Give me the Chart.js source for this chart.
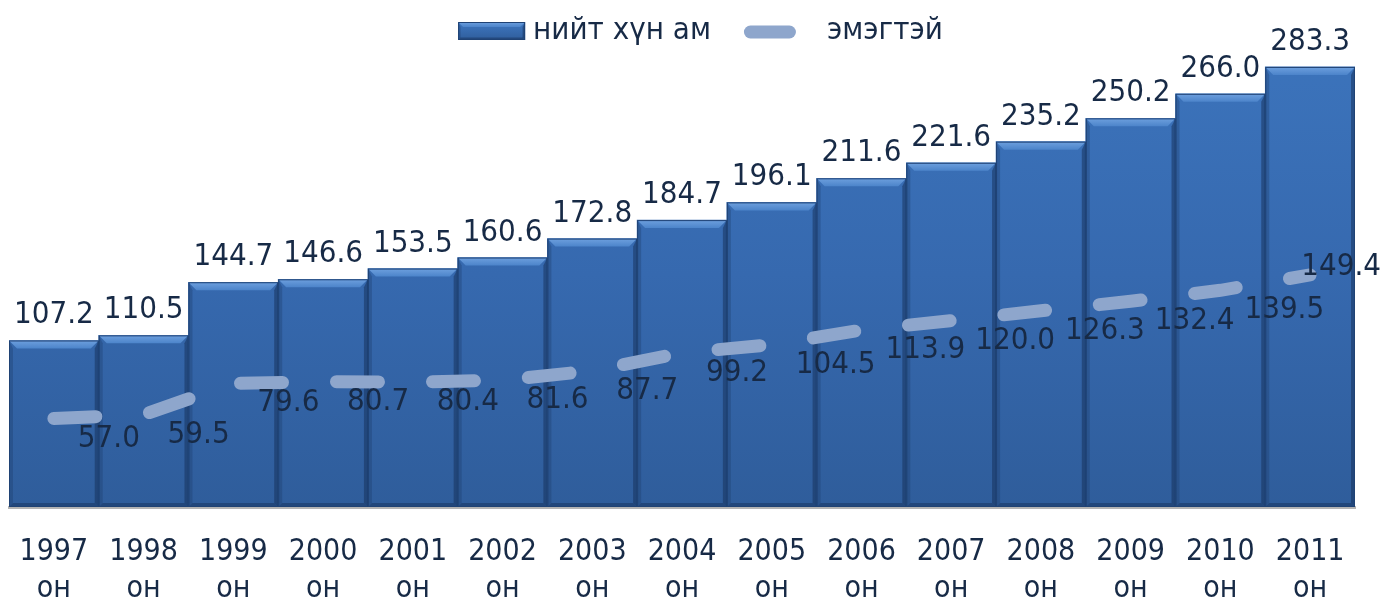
<!DOCTYPE html>
<html>
<head>
<meta charset="utf-8">
<script src="https://cdn.jsdelivr.net/npm/chart.js@4.4.1/dist/chart.umd.min.js"></script>
<style>
  html, body { margin: 0; padding: 0; background: #ffffff; }
  #wrap { width: 1385px; height: 601px; }
</style>
</head>
<body>
<div id="wrap"><canvas id="popChart" width="1385" height="601"></canvas></div>
<script>
// Data (thousand people)
const years = ['1997', '1998', '1999', '2000', '2001', '2002', '2003', '2004', '2005', '2006', '2007', '2008', '2009', '2010', '2011'];
const yearSuffix = 'он';
const totalPop = [107.2, 110.5, 144.7, 146.6, 153.5, 160.6, 172.8, 184.7, 196.1, 211.6, 221.6, 235.2, 250.2, 266.0, 283.3];
const femalePop = [57.0, 59.5, 79.6, 80.7, 80.4, 81.6, 87.7, 99.2, 104.5, 113.9, 120.0, 126.3, 132.4, 139.5, 149.4];
const seriesNames = ['нийт хүн ам', 'эмэгтэй'];

const FONT = '"DejaVu Sans Condensed", "DejaVu Sans", Tahoma, sans-serif';
const TEXT_COLOR = '#172a46';
const LINE_COLOR = '#8ea6cc';

// vertical gradient for the bars, built once the chart area is known
function barGradient(context) {
    const chart = context.chart;
    const area = chart.chartArea;
    if (!area) return '#3a70b5';
    const g = chart.ctx.createLinearGradient(0, area.top, 0, area.bottom);
    g.addColorStop(0, '#3c74bc');
    g.addColorStop(0.5, '#3669af');
    g.addColorStop(1, '#2f5d9b');
    return g;
}

// draws one bevelled box (used for the bars and the legend icon)
function drawBevel(ctx, left, top, right, bottom, b) {
    ctx.save();
    // top highlight
    const tg = ctx.createLinearGradient(0, top, 0, top + b);
    tg.addColorStop(0, '#6ea0de');
    tg.addColorStop(1, '#4c84ca');
    ctx.fillStyle = tg;
    ctx.beginPath();
    ctx.moveTo(left, top);
    ctx.lineTo(right, top);
    ctx.lineTo(right - b, top + b);
    ctx.lineTo(left + b, top + b);
    ctx.closePath();
    ctx.fill();
    // left side
    ctx.fillStyle = 'rgba(30, 60, 105, 0.35)';
    ctx.beginPath();
    ctx.moveTo(left, top);
    ctx.lineTo(left + b * 0.5, top + b);
    ctx.lineTo(left + b * 0.5, bottom - b * 0.5);
    ctx.lineTo(left, bottom);
    ctx.closePath();
    ctx.fill();
    // right side
    ctx.fillStyle = 'rgba(20, 45, 85, 0.5)';
    ctx.beginPath();
    ctx.moveTo(right, top);
    ctx.lineTo(right - b * 0.5, top + b);
    ctx.lineTo(right - b * 0.5, bottom - b * 0.5);
    ctx.lineTo(right, bottom);
    ctx.closePath();
    ctx.fill();
    // bottom
    ctx.fillStyle = 'rgba(20, 45, 85, 0.45)';
    ctx.beginPath();
    ctx.moveTo(left, bottom);
    ctx.lineTo(left + b * 0.5, bottom - b * 0.5);
    ctx.lineTo(right - b * 0.5, bottom - b * 0.5);
    ctx.lineTo(right, bottom);
    ctx.closePath();
    ctx.fill();
    // outline
    ctx.strokeStyle = '#1f4274';
    ctx.lineWidth = 1;
    ctx.strokeRect(left + 0.5, top + 0.5, right - left - 1, bottom - top - 1);
    ctx.restore();
}

const bevelPlugin = {
    id: 'bevel',
    afterDatasetDraw(chart, args) {
        if (args.index !== 0) return;
        chart.getDatasetMeta(0).data.forEach(bar => {
            drawBevel(chart.ctx, bar.x - bar.width / 2, bar.y, bar.x + bar.width / 2, bar.base, 8);
        });
    }
};

// legend row at the top: bar icon + text, line icon + text
const legendRow = {
    id: 'legendRow',
    afterDraw(chart) {
        const ctx = chart.ctx;
        ctx.save();
        ctx.font = '31px ' + FONT;
        const w1 = ctx.measureText(seriesNames[0]).width;
        const w2 = ctx.measureText(seriesNames[1]).width;
        const total = 67 + 8 + w1 + 33 + 52 + 31 + w2;
        let x = chart.width / 2 + 8 - total / 2;
        const cy = 31;

        const g = ctx.createLinearGradient(0, cy - 9, 0, cy + 9);
        g.addColorStop(0, '#3f78c2');
        g.addColorStop(1, '#2f5d9b');
        ctx.fillStyle = g;
        ctx.fillRect(x, cy - 9, 67, 18);
        drawBevel(ctx, x, cy - 9, x + 67, cy + 9, 5);
        x += 67 + 8;

        ctx.fillStyle = TEXT_COLOR;
        ctx.textAlign = 'left';
        ctx.textBaseline = 'middle';
        ctx.fillText(seriesNames[0], x, cy);
        x += w1 + 33;

        ctx.strokeStyle = LINE_COLOR;
        ctx.lineWidth = 13;
        ctx.lineCap = 'round';
        ctx.beginPath();
        ctx.moveTo(x + 6.5, cy + 1);
        ctx.lineTo(x + 52 - 6.5, cy + 1);
        ctx.stroke();
        x += 52 + 31;

        ctx.fillText(seriesNames[1], x, cy);
        ctx.restore();
    }
};

// value labels for both series
const valueLabels = {
    id: 'valueLabels',
    afterDatasetsDraw(chart) {
        const ctx = chart.ctx;
        ctx.save();
        ctx.font = '31px ' + FONT;
        ctx.fillStyle = TEXT_COLOR;

        // totals above the bars
        ctx.textAlign = 'center';
        ctx.textBaseline = 'alphabetic';
        chart.getDatasetMeta(0).data.forEach((bar, i) => {
            ctx.fillText(totalPop[i].toFixed(1), bar.x, bar.y - 17);
        });

        // female values to the lower right of the line points
        ctx.textAlign = 'left';
        ctx.textBaseline = 'middle';
        chart.getDatasetMeta(1).data.forEach((pt, i) => {
            const txt = femalePop[i].toFixed(1);
            const w = ctx.measureText(txt).width;
            let x = pt.x + 24;
            let y = pt.y + 20;
            if (x + w > chart.width - 4) {
                x = chart.width - 4 - w;
                y = pt.y - 8;
            }
            ctx.fillText(txt, x, y);
        });
        ctx.restore();
    }
};

const ctx = document.getElementById('popChart').getContext('2d');
const popChart = new Chart(ctx, {
    type: 'bar',
    data: {
        labels: years.map(y => [y, yearSuffix]),
        datasets: [{
            label: seriesNames[0],
            data: totalPop,
            backgroundColor: barGradient,
            borderWidth: 0,
            barPercentage: 1.0,
            categoryPercentage: 1.0,
            order: 2
        }, {
            type: 'line',
            label: seriesNames[1],
            data: femalePop,
            borderColor: LINE_COLOR,
            backgroundColor: LINE_COLOR,
            borderWidth: 13,
            borderDash: [42, 54],
            borderCapStyle: 'round',
            pointRadius: 0,
            tension: 0,
            order: 1
        }]
    },
    options: {
        responsive: false,
        animation: false,
        devicePixelRatio: 1,
        layout: { padding: { left: 9, right: 30, top: 41, bottom: 0 } },
        plugins: {
            tooltip: { enabled: false },
            legend: { display: false }
        },
        scales: {
            x: {
                grid: { display: false, drawTicks: true, tickLength: 26, tickColor: 'rgba(0,0,0,0)' },
                border: { display: true, color: '#b4b4b4', width: 3 },
                afterFit(scale) { scale.height = 94; },
                ticks: {
                    font: { family: FONT, size: 30, lineHeight: 1.25 },
                    color: TEXT_COLOR,
                    padding: 0,
                    maxRotation: 0,
                    autoSkip: false
                }
            },
            y: {
                display: false,
                min: 0,
                max: 300
            }
        }
    },
    plugins: [bevelPlugin, legendRow, valueLabels]
});
</script>
</body>
</html>
